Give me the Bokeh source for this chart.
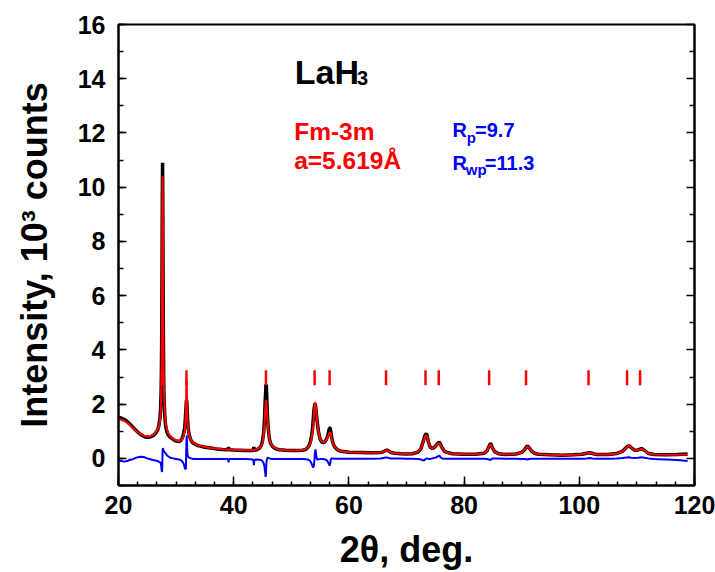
from bokeh.plotting import figure
from bokeh.models import Label, LinearAxis, SingleIntervalTicker, FixedTicker, Range1d
from bokeh.embed import file_html
from bokeh.resources import INLINE

# ---- data ----
two_theta = [
    20.0, 20.5, 21.0, 21.5, 22.0, 22.5, 23.0, 23.5, 24.0, 24.5,
    25.0, 25.5, 26.0, 26.4, 26.8, 27.0, 27.2, 27.3, 27.4, 27.45,
    27.5, 27.55, 27.6, 27.65, 27.7, 27.75, 27.8, 27.85, 27.9, 28.0,
    28.1, 28.2, 28.4, 28.6, 28.8, 29.0, 29.5, 30.0, 30.5, 30.8,
    31.0, 31.2, 31.4, 31.5, 31.6, 31.7, 31.75, 31.8, 31.85, 31.9,
    31.95, 32.0, 32.1, 32.2, 32.4, 32.6, 32.8, 33.0, 33.5, 34.0,
    35.0, 36.0, 37.0, 38.0, 39.0, 39.1, 39.2, 40.0, 41.0, 42.0,
    43.0, 43.4, 43.5, 43.6, 44.0, 44.5, 44.8, 45.0, 45.2, 45.35,
    45.45, 45.55, 45.6, 45.65, 45.7, 45.8, 45.9, 46.0, 46.2, 46.4,
    46.7, 47.0, 47.5, 48.0, 49.0, 50.0, 51.0, 52.0, 52.5, 53.0,
    53.3, 53.5, 53.7, 53.8, 53.9, 54.0, 54.1, 54.2, 54.3, 54.4,
    54.5, 54.7, 55.0, 55.3, 55.6, 55.9, 56.2, 56.4, 56.55, 56.65,
    56.75, 56.85, 57.0, 57.2, 57.5, 58.0, 58.5, 59.0, 60.0, 62.0,
    64.0, 65.5, 66.0, 66.3, 66.6, 66.9, 67.3, 68.0, 69.0, 70.0,
    71.0, 72.0, 72.5, 72.9, 73.2, 73.45, 73.6, 73.8, 74.1, 74.5,
    74.9, 75.2, 75.5, 75.7, 75.9, 76.2, 76.6, 77.0, 78.0, 80.0,
    82.0, 83.5, 84.0, 84.3, 84.6, 84.9, 85.3, 86.0, 87.0, 89.0,
    90.0, 90.5, 90.8, 91.0, 91.3, 91.7, 92.3, 93.0, 95.0, 97.0,
    99.0, 100.5, 101.3, 101.8, 102.3, 103.0, 105.0, 106.5, 107.5, 108.2,
    108.6, 109.0, 109.6, 110.2, 110.8, 111.3, 112.0, 113.0, 115.0, 117.0,
    118.8,
]

observed = [
    1.52, 1.48, 1.44, 1.36, 1.26, 1.15, 1.04, 0.94, 0.86, 0.80,
    0.78, 0.79, 0.84, 0.92, 1.05, 1.20, 1.48, 1.78, 2.45, 3.20,
    4.40, 6.60, 9.40, 10.90, 8.90, 6.20, 4.20, 3.00, 2.30, 1.72,
    1.38, 1.18, 0.98, 0.88, 0.82, 0.78, 0.70, 0.64, 0.62, 0.65,
    0.72, 0.82, 1.02, 1.15, 1.45, 1.80, 2.00, 2.15, 2.10, 1.90,
    1.65, 1.42, 1.13, 0.95, 0.77, 0.66, 0.60, 0.56, 0.50, 0.46,
    0.41, 0.38, 0.35, 0.33, 0.32, 0.42, 0.32, 0.31, 0.30, 0.29,
    0.29, 0.29, 0.42, 0.30, 0.32, 0.38, 0.48, 0.64, 0.95, 1.45,
    2.05, 2.45, 2.70, 2.72, 2.50, 1.90, 1.40, 1.08, 0.72, 0.56,
    0.45, 0.39, 0.34, 0.32, 0.30, 0.29, 0.29, 0.30, 0.33, 0.43,
    0.60, 0.80, 1.12, 1.40, 1.70, 1.90, 2.02, 1.95, 1.75, 1.55,
    1.35, 1.00, 0.72, 0.60, 0.58, 0.62, 0.75, 0.90, 1.05, 1.12,
    1.12, 1.00, 0.78, 0.58, 0.43, 0.32, 0.27, 0.25, 0.23, 0.22,
    0.21, 0.22, 0.24, 0.28, 0.31, 0.27, 0.22, 0.19, 0.17, 0.16,
    0.17, 0.23, 0.36, 0.62, 0.84, 0.92, 0.82, 0.60, 0.42, 0.36,
    0.42, 0.50, 0.57, 0.60, 0.52, 0.38, 0.26, 0.22, 0.17, 0.15,
    0.15, 0.19, 0.28, 0.44, 0.56, 0.40, 0.25, 0.17, 0.14, 0.16,
    0.22, 0.32, 0.42, 0.46, 0.39, 0.27, 0.18, 0.15, 0.13, 0.12,
    0.13, 0.15, 0.19, 0.21, 0.18, 0.14, 0.14, 0.18, 0.26, 0.41,
    0.47, 0.40, 0.30, 0.31, 0.36, 0.30, 0.18, 0.14, 0.13, 0.14,
    0.16,
]

calculated = [
    1.44, 1.42, 1.38, 1.31, 1.22, 1.12, 1.02, 0.94, 0.88, 0.83,
    0.81, 0.82, 0.87, 0.95, 1.08, 1.16, 1.38, 1.65, 2.25, 2.90,
    4.00, 6.10, 9.10, 10.40, 9.20, 6.50, 4.45, 3.25, 2.52, 1.88,
    1.52, 1.32, 1.08, 0.95, 0.88, 0.81, 0.72, 0.66, 0.64, 0.66,
    0.68, 0.77, 0.90, 1.00, 1.25, 1.75, 2.40, 2.90, 2.75, 2.20,
    1.70, 1.36, 1.10, 0.94, 0.77, 0.67, 0.61, 0.57, 0.51, 0.47,
    0.42, 0.38, 0.36, 0.34, 0.33, 0.33, 0.33, 0.32, 0.31, 0.30,
    0.30, 0.30, 0.31, 0.31, 0.33, 0.39, 0.46, 0.58, 0.85, 1.25,
    1.75, 2.05, 2.15, 2.10, 2.00, 1.70, 1.32, 1.05, 0.72, 0.57,
    0.46, 0.40, 0.35, 0.32, 0.30, 0.29, 0.29, 0.31, 0.34, 0.42,
    0.55, 0.70, 1.00, 1.18, 1.48, 1.85, 2.05, 2.05, 1.82, 1.58,
    1.34, 1.00, 0.72, 0.61, 0.59, 0.63, 0.72, 0.82, 0.90, 0.95,
    0.95, 0.88, 0.74, 0.57, 0.43, 0.33, 0.28, 0.25, 0.23, 0.22,
    0.21, 0.22, 0.24, 0.28, 0.30, 0.27, 0.22, 0.19, 0.17, 0.16,
    0.17, 0.24, 0.37, 0.60, 0.80, 0.86, 0.80, 0.60, 0.42, 0.36,
    0.42, 0.50, 0.56, 0.56, 0.50, 0.38, 0.27, 0.22, 0.17, 0.15,
    0.15, 0.19, 0.28, 0.43, 0.52, 0.39, 0.25, 0.17, 0.14, 0.16,
    0.22, 0.32, 0.41, 0.44, 0.39, 0.27, 0.18, 0.15, 0.13, 0.12,
    0.13, 0.15, 0.19, 0.21, 0.18, 0.14, 0.14, 0.18, 0.26, 0.40,
    0.46, 0.40, 0.30, 0.31, 0.35, 0.30, 0.18, 0.14, 0.13, 0.13,
    0.14,
]

difference = [
    -0.08, -0.10, -0.12, -0.10, -0.05, -0.03, 0.02, 0.05, 0.06, 0.04,
    0.00, -0.03, -0.06, -0.08, -0.10, -0.12, -0.15, -0.15, -0.25, -0.35,
    -0.45, -0.50, -0.30, 0.30, 0.38, 0.35, 0.30, 0.28, 0.26, 0.24,
    0.20, 0.18, 0.12, 0.08, 0.05, 0.02, 0.00, -0.02, -0.04, -0.06,
    -0.10, -0.15, -0.25, -0.35, -0.40, -0.38, 0.20, 0.70, 0.85, 0.50,
    0.25, 0.12, 0.06, 0.03, 0.02, 0.00, -0.01, -0.02, -0.02, -0.02,
    -0.02, -0.02, -0.02, -0.02, -0.02, -0.15, -0.02, -0.02, -0.02, -0.02,
    -0.03, -0.05, -0.25, -0.05, -0.04, -0.05, -0.07, -0.10, -0.18, -0.30,
    -0.50, -0.68, -0.60, -0.30, -0.10, 0.00, 0.02, 0.02, 0.00, -0.01,
    -0.02, -0.02, -0.02, -0.02, -0.02, -0.02, -0.02, -0.02, -0.03, -0.05,
    -0.10, -0.18, -0.30, -0.33, -0.30, -0.10, 0.20, 0.33, 0.15, 0.02,
    -0.05, -0.03, -0.02, -0.02, -0.02, -0.04, -0.08, -0.15, -0.22, -0.27,
    -0.20, -0.05, 0.00, 0.00, -0.01, -0.01, -0.01, -0.01, -0.01, -0.01,
    -0.01, 0.00, 0.01, 0.03, 0.03, 0.01, 0.00, 0.00, 0.00, -0.01,
    -0.01, -0.02, -0.04, -0.08, -0.05, 0.00, 0.00, -0.02, -0.02, 0.00,
    0.02, 0.04, 0.08, 0.10, 0.04, 0.00, -0.01, -0.01, -0.01, -0.01,
    -0.01, -0.01, -0.02, -0.04, -0.06, 0.00, 0.00, 0.00, -0.01, -0.01,
    -0.02, -0.02, -0.03, -0.04, -0.02, -0.01, -0.01, -0.01, -0.01, -0.01,
    -0.01, -0.01, 0.00, 0.01, 0.00, -0.01, -0.01, 0.00, 0.01, 0.03,
    0.04, 0.02, 0.01, 0.02, 0.04, 0.02, 0.00, -0.02, -0.04, -0.06,
    -0.10,
]

# Bragg reflection positions (red tick marks)
bragg_positions = [27.55, 31.8, 45.6, 54.05, 56.65, 66.45, 73.3, 75.6,
                   84.35, 90.75, 101.6, 108.3, 110.55]
bragg_bottom = 2.7
bragg_top = 3.25

# axis tick values
y_major = [0, 2, 4, 6, 8, 10, 12, 14, 16]
y_minor = [-1, 1, 3, 5, 7, 9, 11, 13, 15]

FONT = "Liberation Sans"

p = figure(width=715, height=572,
           x_range=Range1d(20, 120), y_range=Range1d(-1, 16),
           output_backend="svg", toolbar_location=None,
           min_border_left=118, min_border_right=21,
           min_border_top=24, min_border_bottom=87)

p.background_fill_color = "white"
p.border_fill_color = "white"
p.outline_line_color = "black"
p.outline_line_width = 2
p.xgrid.visible = False
p.ygrid.visible = False

# curves
p.line(two_theta, observed, line_color="black", line_width=3.5)
p.line(two_theta, calculated, line_color="#FF0000", line_width=2)
p.line(two_theta, difference, line_color="#0000FF", line_width=2)
p.segment(x0=bragg_positions, y0=[bragg_bottom] * len(bragg_positions),
          x1=bragg_positions, y1=[bragg_top] * len(bragg_positions),
          line_color="#FF0000", line_width=2.5)

# axes
xa = p.xaxis[0]
ya = p.yaxis[0]
xa.ticker = SingleIntervalTicker(interval=20, num_minor_ticks=6)
ya.ticker = SingleIntervalTicker(interval=2, num_minor_ticks=2)
for ax in (xa, ya):
    ax.axis_line_width = 2
    ax.axis_line_color = "black"
    ax.major_tick_line_width = 1.5
    ax.minor_tick_line_width = 1.5
    ax.major_tick_out = 0
    ax.minor_tick_out = 0
    ax.major_label_text_font = FONT
    ax.major_label_text_font_style = "bold"
    ax.major_label_text_font_size = "25px"
    ax.major_label_text_color = "black"
    ax.axis_label_text_font = FONT
    ax.axis_label_text_font_style = "bold"
    ax.axis_label_text_font_size = "36px"
    ax.axis_label_text_color = "black"
xa.major_tick_in = 9
xa.minor_tick_in = 4
ya.major_tick_in = 8
ya.minor_tick_in = 5
xa.major_label_standoff = 10
ya.major_label_standoff = 13
xa.axis_label = "2θ, deg."
ya.axis_label = "Intensity, 10³ counts"
xa.axis_label_standoff = 12
ya.axis_label_standoff = 20

# right axis: ticks only (no labels)
ra_major = LinearAxis(ticker=FixedTicker(ticks=[], minor_ticks=y_major),
                      axis_line_width=2, major_tick_in=0, major_tick_out=0,
                      minor_tick_in=8, minor_tick_out=0,
                      minor_tick_line_width=1.5, major_label_standoff=0)
p.add_layout(ra_major, "right")
ra_minor = LinearAxis(ticker=FixedTicker(ticks=[], minor_ticks=y_minor),
                      axis_line_width=0, axis_line_alpha=0,
                      major_tick_in=0, major_tick_out=0,
                      minor_tick_in=5, minor_tick_out=0,
                      minor_tick_line_width=1.5, major_label_standoff=0)
p.add_layout(ra_minor, "right")

# annotations
def add_label(x, y, text, size, color):
    p.add_layout(Label(x=x, y=y, text=text, text_font=FONT,
                       text_font_style="bold", text_font_size=size,
                       text_color=color, text_align="left",
                       text_baseline="alphabetic"))

add_label(50.6, 14.24, "LaH", "34px", "black")
add_label(61.4, 14.04, "3", "20px", "black")
add_label(50.5, 12.07, "Fm-3m", "24.5px", "#FF0000")
add_label(50.5, 10.97, "a=5.619Å", "24.5px", "#FF0000")
add_label(78.0, 12.11, "R", "20px", "#0000FF")
add_label(80.45, 11.83, "p", "15px", "#0000FF")
add_label(81.9, 12.11, "=9.7", "20px", "#0000FF")
add_label(78.0, 10.91, "R", "20px", "#0000FF")
add_label(80.3, 10.66, "wp", "15px", "#0000FF")
add_label(83.6, 10.91, "=11.3", "20px", "#0000FF")

open("out.html", "w").write(file_html(p, INLINE))
